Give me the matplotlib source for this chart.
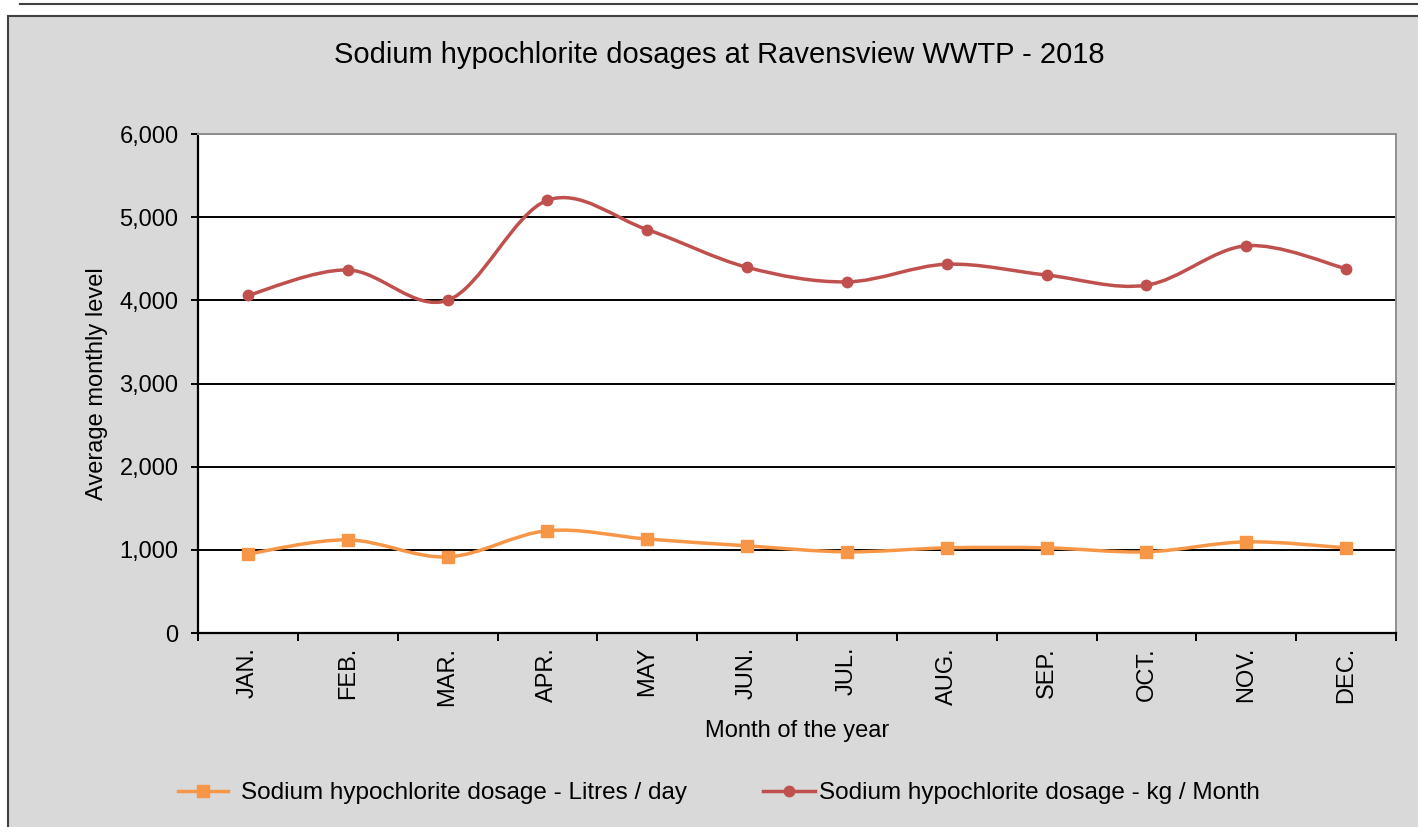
import matplotlib
matplotlib.use("Agg")
import matplotlib.pyplot as plt
from matplotlib.path import Path
from matplotlib.patches import PathPatch, Rectangle
from matplotlib.lines import Line2D
from matplotlib.ticker import FuncFormatter, FixedLocator
import numpy as np

plt.rcParams['font.family'] = ['Liberation Sans', 'DejaVu Sans']

months = ["JAN.", "FEB.", "MAR.", "APR.", "MAY", "JUN.", "JUL.", "AUG.", "SEP.", "OCT.", "NOV.", "DEC."]
litres_per_day = [950, 1120, 915, 1230, 1130, 1048, 976, 1024, 1024, 976, 1096, 1024]
kg_per_month = [4060, 4365, 4000, 5203, 4850, 4397, 4222, 4434, 4304, 4182, 4656, 4380]

title = "Sodium hypochlorite dosages at Ravensview WWTP - 2018"
xlabel = "Month of the year"
ylabel = "Average monthly level"
label_litres = "Sodium hypochlorite dosage - Litres / day"
label_kg = "Sodium hypochlorite dosage - kg / Month"
yticks = [0, 1000, 2000, 3000, 4000, 5000, 6000]

C_ORANGE = "#F79646"
C_RED = "#C0504D"
BG = "#D9D9D9"
FS = 17
FS_LEG = 17.5

W, H = 1418, 827
fig = plt.figure(figsize=(W / 100, H / 100), dpi=100)
fig.patch.set_facecolor("white")

# outer chart area
fig.add_artist(Rectangle((8 / W, -0.01), 1.02, (H - 16) / H + 0.01, transform=fig.transFigure,
                         facecolor=BG, edgecolor="#404040", linewidth=1.5, zorder=0))
fig.add_artist(Line2D([20 / W, 1.0], [1 - 4 / H, 1 - 4 / H], transform=fig.transFigure,
                      color="#404040", linewidth=1.5))

left, right, top, bottom = 198 / W, 1396 / W, 1 - 134 / H, 1 - 633 / H
ax = fig.add_axes([left, bottom, right - left, top - bottom])
ax.set_facecolor("white")


def smooth_path(xs, ys):
    pts = np.column_stack([xs, ys]).astype(float)
    n = len(pts)
    verts = [pts[0]]
    codes = [Path.MOVETO]
    for i in range(n - 1):
        p0 = pts[i - 1] if i > 0 else pts[i]
        p1 = pts[i]
        p2 = pts[i + 1]
        p3 = pts[i + 2] if i + 2 < n else pts[i + 1]
        c1 = p1 + (p2 - p0) / 6.0
        c2 = p2 - (p3 - p1) / 6.0
        verts += [c1, c2, p2]
        codes += [Path.CURVE4] * 3
    return Path(verts, codes)


x = np.arange(len(months))
for vals, col, mk, ms in [(litres_per_day, C_ORANGE, "s", 8),
                          (kg_per_month, C_RED, "o", 7.5)]:
    patch = PathPatch(smooth_path(x, vals), facecolor="none", edgecolor=col, linewidth=2.5,
                      zorder=3, capstyle="round", joinstyle="round")
    ax.add_patch(patch)
    ax.plot(x, vals, linestyle="none", marker=mk, markersize=ms, color=col, zorder=4)

ax.set_xlim(-0.5, len(months) - 0.5)
ax.set_ylim(0, 6000)
ax.yaxis.set_major_locator(FixedLocator(yticks))
ax.yaxis.set_major_formatter(FuncFormatter(lambda v, p: f"{int(v):,}"))
ax.grid(axis="y", color="black", linewidth=1.4, zorder=1)
ax.set_axisbelow(True)

ax.set_xticks(np.arange(-0.5, len(months), 1.0))
ax.set_xticklabels([])
ax.set_xticks(x, minor=True)
ax.set_xticklabels(months, minor=True, rotation=90, fontsize=FS)
ax.tick_params(axis="x", which="major", direction="out", length=6, width=1.4, color="black")
ax.tick_params(axis="x", which="minor", length=0, pad=10)
ax.tick_params(axis="y", direction="out", length=5, width=1.4, labelsize=FS, pad=9)

for s in ["left", "bottom"]:
    ax.spines[s].set_color("black")
    ax.spines[s].set_linewidth(1.6)
for s in ["top", "right"]:
    ax.spines[s].set_color("#909090")
    ax.spines[s].set_linewidth(1.4)

ax.set_xlabel(xlabel, fontsize=FS, labelpad=10)
ax.set_ylabel(ylabel, fontsize=FS, labelpad=8)
fig.text(719 / W, 1 - 55 / H, title, ha="center", va="center", fontsize=21)

px = FS_LEG * 100 / 72
h1 = Line2D([], [], color=C_ORANGE, linewidth=2.5, marker="s", markersize=8)
h2 = Line2D([], [], color=C_RED, linewidth=2.5, marker="o", markersize=7.5)
leg1 = fig.legend([h1], [label_litres], loc="center left", bbox_to_anchor=(178 / W, 1 - 793 / H),
                  frameon=False, fontsize=FS_LEG, handlelength=50 / px, handletextpad=13 / px,
                  borderpad=0, borderaxespad=0)
leg2 = fig.legend([h2], [label_kg], loc="center left", bbox_to_anchor=(763 / W, 1 - 793 / H),
                  frameon=False, fontsize=FS_LEG, handlelength=52 / px, handletextpad=4 / px,
                  borderpad=0, borderaxespad=0)

fig.savefig("out.png", dpi=100, facecolor=fig.get_facecolor())
